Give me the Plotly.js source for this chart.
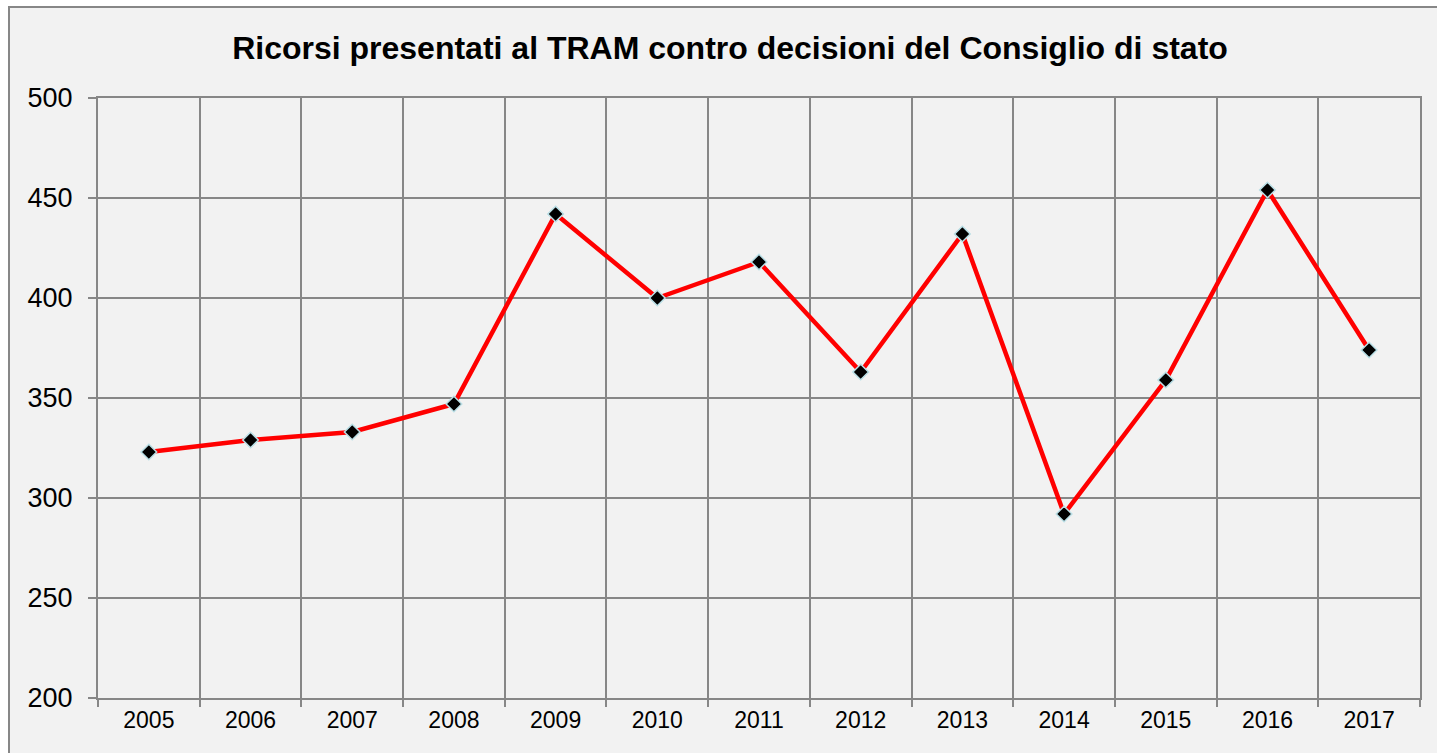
<!DOCTYPE html>
<html>
<head>
<meta charset="utf-8">
<script src="https://cdn.plot.ly/plotly-3.0.1.min.js"></script>
<style>
  html, body { margin: 0; padding: 0; background: #ffffff; width: 1437px; height: 753px; overflow: hidden; }
  #frame { position: absolute; left: 8px; top: 6px; width: 1440px; height: 760px; border: 2px solid #878787; background: #f2f2f2; }
  #chart { position: absolute; left: 0; top: 0; width: 1437px; height: 753px; }
</style>
</head>
<body>
<div id="frame"></div>
<div id="chart"></div>
<script>
const years = ["2005","2006","2007","2008","2009","2010","2011","2012","2013","2014","2015","2016","2017"];
const ricorsi = [323, 329, 333, 347, 442, 400, 418, 363, 432, 292, 359, 454, 374];
const yTicks = [200, 250, 300, 350, 400, 450, 500];
const chartTitle = "Ricorsi presentati al TRAM contro decisioni del Consiglio di stato";

const trace = {
  x: years,
  y: ricorsi,
  type: "scatter",
  mode: "lines+markers",
  line: { color: "#ff0000", width: 4.5 },
  marker: { symbol: "diamond", size: 12, color: "#000000", line: { color: "#b9dfe6", width: 1.5 } },
  hoverinfo: "x+y"
};

const layout = {
  width: 1437,
  height: 753,
  paper_bgcolor: "rgba(0,0,0,0)",
  plot_bgcolor: "rgba(0,0,0,0)",
  margin: { l: 98, r: 17, t: 98, b: 55 },
  showlegend: false,
  font: { family: "Liberation Sans, Arial, sans-serif", color: "#000000" },
  title: {
    text: "<b>" + chartTitle + "</b>",
    font: { size: 32, family: "Liberation Sans, Arial, sans-serif", color: "#000000" },
    xref: "container", yref: "container",
    x: 0.508, y: 1 - 48/753, xanchor: "center", yanchor: "middle"
  },
  xaxis: {
    type: "category",
    categoryorder: "array",
    categoryarray: years,
    range: [-0.5, 12.5],
    tickson: "boundaries",
    ticks: "outside",
    ticklen: 7,
    tickwidth: 2,
    tickcolor: "#878787",
    showgrid: true,
    gridcolor: "#878787",
    gridwidth: 2,
    showline: true,
    mirror: true,
    linecolor: "#878787",
    linewidth: 2,
    tickfont: { size: 23, family: "Liberation Sans, Arial, sans-serif", color: "#000000" },
    fixedrange: true
  },
  yaxis: {
    range: [200, 500],
    tickvals: yTicks,
    ticktext: yTicks.map(String),
    ticks: "outside",
    ticklen: 8,
    tickwidth: 2,
    tickcolor: "#878787",
    showgrid: true,
    gridcolor: "#878787",
    gridwidth: 2,
    showline: true,
    mirror: true,
    linecolor: "#878787",
    linewidth: 2,
    zeroline: false,
    ticklabelstandoff: 10,
    tickfont: { size: 27, family: "Liberation Sans, Arial, sans-serif", color: "#000000" },
    fixedrange: true
  }
};

Plotly.newPlot("chart", [trace], layout, { displayModeBar: false, staticPlot: true });
</script>
</body>
</html>
